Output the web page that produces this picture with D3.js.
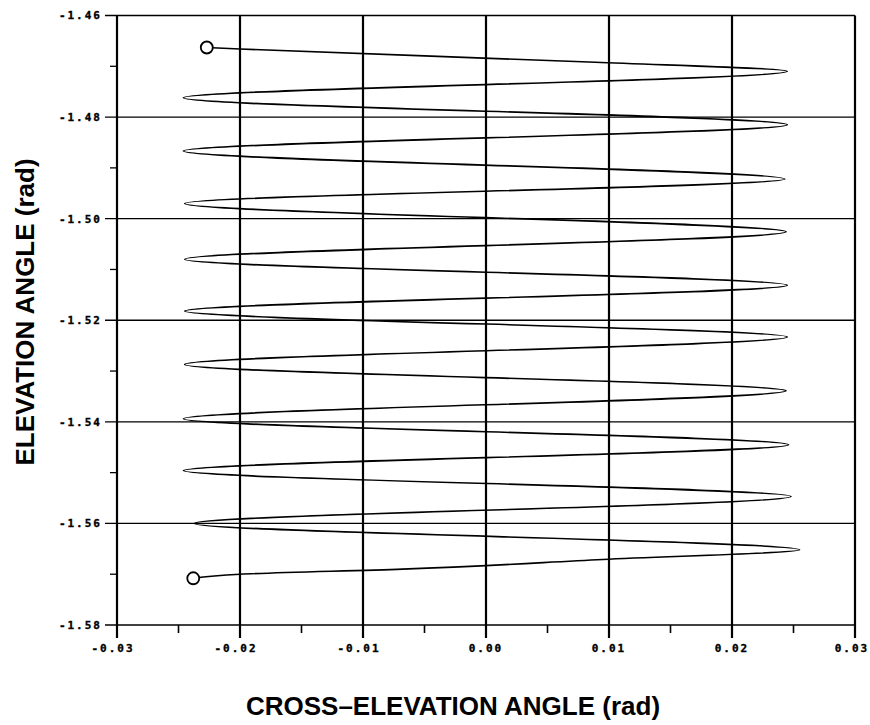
<!DOCTYPE html>
<html>
<head>
<meta charset="utf-8">
<script src="https://cdn.jsdelivr.net/npm/d3@7"></script>
<style>
  html, body { margin: 0; padding: 0; background: #fff; }
  svg { display: block; }
  .tick-label { font-family: "DejaVu Sans Mono", "Liberation Mono", monospace; font-weight: bold; font-size: 11px; letter-spacing: 2px; fill: #000; stroke: #000; stroke-width: 0.35px; }
  .axis-title { font-family: "Liberation Sans", Arial, sans-serif; font-weight: bold; font-size: 26px; fill: #000; }
</style>
</head>
<body>
<svg id="chart" width="870" height="725"></svg>
<script>
// Axis ticks and their printed labels
const xMajorTicks = [-0.03, -0.02, -0.01, 0.00, 0.01, 0.02, 0.03];
const xMajorLabels = ["-0.03", "-0.02", "-0.01", "0.00", "0.01", "0.02", "0.03"];
const xMinorTicks = [-0.025, -0.015, -0.005, 0.005, 0.015, 0.025];
const yMajorTicks = [-1.46, -1.48, -1.50, -1.52, -1.54, -1.56, -1.58];
const yMajorLabels = ["-1.46", "-1.48", "-1.50", "-1.52", "-1.54", "-1.56", "-1.58"];
const yMinorTicks = [-1.47, -1.49, -1.51, -1.53, -1.55, -1.57];

// Raster scan trace, in scan order: start, sweep turnarounds, end (rad)
const scanCrossElev = [
  -0.0227, -0.0200, 0.0089,
   0.0245, -0.0246,  0.0245, -0.0246,  0.0243, -0.0245,  0.0244, -0.0245,
   0.0245, -0.0245,  0.0245, -0.0245,  0.0244, -0.0246,  0.0246, -0.0246,
   0.0248, -0.0237,  0.0255,
   0.0095, -0.0068, -0.0200, -0.0238
];
const scanElev = [
  -1.4663, -1.4666, -1.4692,
  -1.4710, -1.4762, -1.4815, -1.4867, -1.4922, -1.4970, -1.5026, -1.5080,
  -1.5131, -1.5182, -1.5233, -1.5287, -1.5339, -1.5394, -1.5445, -1.5496,
  -1.5547, -1.5600, -1.5652,
  -1.5671, -1.5690, -1.5700, -1.5708
];

const xTitle = "CROSS\u2013ELEVATION ANGLE (rad)";
const yTitle = "ELEVATION ANGLE (rad)";

const width = 870;
const svg = d3.select("#chart");
const plot = { left: 117, right: 855, top: 15.5, bottom: 625 };

const x = d3.scaleLinear().domain([-0.03, 0.03]).range([plot.left, plot.right]);
const y = d3.scaleLinear().domain([-1.58, -1.46]).range([plot.bottom, plot.top]);

// Horizontal grid lines (extend left past the frame as major ticks)
svg.append("g").selectAll("line").data(yMajorTicks).join("line")
  .attr("x1", plot.left - 12).attr("x2", plot.right)
  .attr("y1", d => y(d)).attr("y2", d => y(d))
  .attr("stroke", "#000").attr("stroke-width", 1.3);

// Minor ticks on the elevation axis
svg.append("g").selectAll("line").data(yMinorTicks).join("line")
  .attr("x1", plot.left - 7).attr("x2", plot.left)
  .attr("y1", d => y(d)).attr("y2", d => y(d))
  .attr("stroke", "#000").attr("stroke-width", 1.3);

// Vertical grid lines (extend below the frame as major ticks)
svg.append("g").selectAll("line").data(xMajorTicks).join("line")
  .attr("x1", d => x(d)).attr("x2", d => x(d))
  .attr("y1", plot.top).attr("y2", plot.bottom + 13)
  .attr("stroke", "#000").attr("stroke-width", 2.2);

// Minor ticks on the cross-elevation axis
svg.append("g").selectAll("line").data(xMinorTicks).join("line")
  .attr("x1", d => x(d)).attr("x2", d => x(d))
  .attr("y1", plot.bottom).attr("y2", plot.bottom + 8)
  .attr("stroke", "#000").attr("stroke-width", 1.6);

// Tick labels
svg.append("g").selectAll("text").data(yMajorTicks).join("text")
  .attr("class", "tick-label")
  .attr("x", plot.left - 15)
  .attr("y", d => y(d))
  .attr("dy", "0.36em")
  .attr("text-anchor", "end")
  .text((d, i) => yMajorLabels[i]);

svg.append("g").selectAll("text").data(xMajorTicks).join("text")
  .attr("class", "tick-label")
  .attr("x", d => Math.min(x(d) + (d < 0 ? -4 : 0), width - 18))
  .attr("y", plot.bottom + 27)
  .attr("text-anchor", "middle")
  .text((d, i) => xMajorLabels[i]);

// Scan trace
const pts = scanCrossElev.map((v, i) => [v, scanElev[i]]);
const line = d3.line()
  .x(d => x(d[0]))
  .y(d => y(d[1]))
  .curve(d3.curveMonotoneY);

svg.append("path")
  .datum(pts)
  .attr("d", line)
  .attr("fill", "none")
  .attr("stroke", "#000")
  .attr("stroke-width", 1.6)
  .attr("stroke-linejoin", "round");

// Start and end markers
svg.append("g").selectAll("circle").data([pts[0], pts[pts.length - 1]]).join("circle")
  .attr("cx", d => x(d[0]))
  .attr("cy", d => y(d[1]))
  .attr("r", 6)
  .attr("fill", "#fff")
  .attr("stroke", "#000")
  .attr("stroke-width", 1.8);

// Axis titles
svg.append("text")
  .attr("class", "axis-title")
  .attr("x", 453).attr("y", 715)
  .attr("text-anchor", "middle")
  .text(xTitle);

svg.append("text")
  .attr("class", "axis-title")
  .attr("transform", "translate(34,312) rotate(-90)")
  .attr("text-anchor", "middle")
  .text(yTitle);
</script>
</body>
</html>
